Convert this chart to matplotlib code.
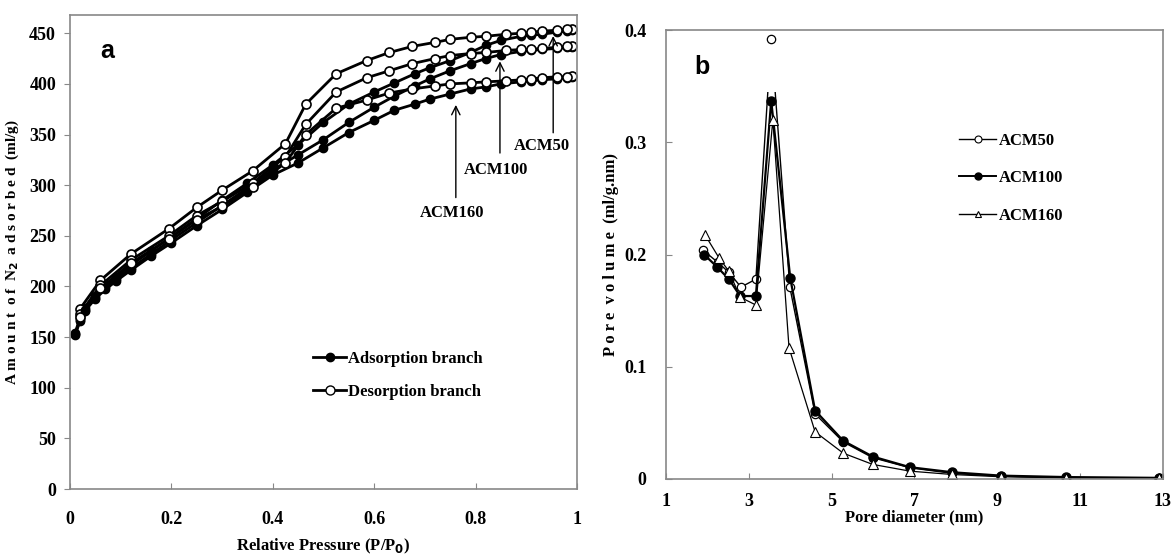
import matplotlib
matplotlib.use('Agg')
import matplotlib.pyplot as plt
from matplotlib.lines import Line2D
from matplotlib.patches import Rectangle

plt.rcParams['font.family'] = ['Liberation Serif', 'DejaVu Serif']
plt.rcParams['font.weight'] = 'bold'

# ---- panel a: N2 isotherms ----
ads_p = [0.01, 0.02, 0.03, 0.05, 0.07, 0.09, 0.12, 0.16, 0.2, 0.25, 0.3, 0.35, 0.4,
         0.45, 0.5, 0.55, 0.6, 0.64, 0.68, 0.71, 0.75, 0.79, 0.82, 0.85, 0.89,
         0.91, 0.93, 0.96, 0.98, 0.99]
ads_50 = [154, 169, 179, 191, 201, 209, 221, 235, 249, 267, 285, 302, 320,
          340, 362, 380, 392, 401, 410, 416, 423, 431, 438, 443, 447,
          448, 449, 451, 452, 453]
ads_100 = [153, 167, 177, 189, 199, 207, 218, 232, 246, 263, 280, 297, 315,
           330, 345, 362, 377, 388, 398, 405, 413, 420, 425, 429, 432,
           433, 434, 435, 436, 436]
ads_160 = [152, 166, 176, 188, 197, 205, 216, 230, 243, 260, 276, 293, 310,
           322, 337, 352, 364, 374, 380, 385, 390, 395, 397, 400, 402,
           403, 404, 405, 406, 407]

des_p = [0.99, 0.98, 0.96, 0.93, 0.91, 0.89, 0.86, 0.82, 0.79, 0.75, 0.72, 0.675,
         0.63, 0.585, 0.525, 0.465, 0.425, 0.36, 0.3, 0.25, 0.195, 0.12, 0.06, 0.02]
des_50 = [454, 454, 453, 452, 451, 450, 449, 447, 446, 444, 441, 437,
          431, 423, 410, 380, 341, 314, 295, 278, 257, 232, 206, 178]
des_100 = [437, 437, 436, 435, 434, 434, 433, 431, 430, 428, 425, 420,
           413, 406, 392, 360, 328, 302, 284, 270, 250, 226, 201, 173]
des_160 = [408, 407, 407, 406, 405, 404, 403, 402, 401, 400, 398, 395,
           391, 384, 376, 350, 322, 298, 279, 266, 247, 223, 198, 170]

labels_a = ['ACM50', 'ACM100', 'ACM160']
arrow_x = [0.953, 0.848, 0.761]
arrow_tip = [450, 425, 382]
arrow_tail = [349, 329, 285]
text_xy = [(0.931, 339), (0.840, 315), (0.753, 273)]

# ---- panel b: pore size distribution ----
d_50 = [1.89, 2.25, 2.52, 2.81, 3.17, 3.54, 3.99, 4.60, 5.28, 5.99, 6.89, 7.91, 9.08, 10.66, 12.9]
v_50 = [0.204, 0.193, 0.184, 0.171, 0.178, 0.392, 0.171, 0.058, 0.033, 0.019, 0.010, 0.005,
        0.0025, 0.0013, 0.0007]
d_100 = [1.92, 2.23, 2.52, 2.79, 3.17, 3.54, 4.0, 4.60, 5.28, 5.99, 6.89, 7.91, 9.08, 10.66, 12.9]
v_100 = [0.200, 0.189, 0.178, 0.163, 0.163, 0.337, 0.179, 0.061, 0.034, 0.020, 0.0105, 0.006,
         0.003, 0.0017, 0.001]
d_160 = [1.95, 2.28, 2.52, 2.79, 3.17, 3.58, 3.97, 4.60, 5.28, 5.99, 6.89, 7.91, 9.08, 10.66, 12.9]
v_160 = [0.217, 0.197, 0.185, 0.162, 0.155, 0.320, 0.117, 0.042, 0.023, 0.013, 0.007, 0.004,
         0.002, 0.001, 0.0005]

fig = plt.figure(figsize=(11.74, 5.54), dpi=100)
ax1 = fig.add_axes([0.0596, 0.1173, 0.4319, 0.8556])
ax2 = fig.add_axes([0.5673, 0.1354, 0.4233, 0.8104])

for ax in (ax1, ax2):
    for s in ax.spines.values():
        s.set_color('#888888')
        s.set_linewidth(1.2)
    ax.tick_params(colors='#888888', labelcolor='black', labelsize=13, length=4)

# panel a
for ya, yd in [(ads_50, des_50), (ads_100, des_100), (ads_160, des_160)]:
    ax1.plot(ads_p, ya, '-o', color='black', lw=2, ms=6, mfc='black', mec='black', mew=1)
    ax1.plot(des_p, yd, '-o', color='black', lw=2, ms=6.5, mfc='white', mec='black', mew=1.2)

for lab, x, tip, tail, (tx, ty) in zip(labels_a, arrow_x, arrow_tip, arrow_tail, text_xy):
    ax1.annotate('', xy=(x, tip), xytext=(x, tail),
                 arrowprops=dict(arrowstyle='->', color='black', lw=1, mutation_scale=15))
    ax1.text(tx, ty, lab, ha='center', va='center', fontsize=12, fontweight='bold')

ax1.set_xlim(0, 1)
ax1.set_ylim(0, 468)
ax1.set_xticks([0, 0.2, 0.4, 0.6, 0.8, 1])
ax1.set_xticklabels(['0', '0.2', '0.4', '0.6', '0.8', '1'])
ax1.set_yticks(range(0, 451, 50))
ax1.tick_params(axis='x', direction='in', pad=16)
ax1.tick_params(axis='y', direction='out', pad=6)
ax1.set_xlabel('Relative Pressure (P/P$_\\mathbf{0}$)', fontsize=12, fontweight='bold', labelpad=6)
ax1.set_ylabel('A m o u n t  o f  N$_\\mathbf{2}$  a d s o r b e d  (ml/g)', fontsize=11,
               fontweight='bold', labelpad=6)
ax1.text(0.073, 0.925, 'a', transform=ax1.transAxes, fontsize=18, fontweight='bold',
         family='Liberation Sans', ha='center', va='center')

h_ads = Line2D([], [], color='black', lw=2, marker='o', ms=6, mfc='black', mec='black')
h_des = Line2D([], [], color='black', lw=2, marker='o', ms=6.5, mfc='white', mec='black')
ax1.legend([h_ads, h_des], ['Adsorption branch', 'Desorption branch'], frameon=False,
           loc='center left', bbox_to_anchor=(0.45, 0.24), fontsize=12, handlelength=2.0,
           handletextpad=0.1, labelspacing=1.0)

# panel b
l50, = ax2.plot(d_50, v_50, '-', color='black', lw=1)
l50.set_clip_path(Rectangle((1, 0), 12, 0.345, transform=ax2.transData))
ax2.plot(d_50, v_50, 'o', color='black', ms=6, mfc='white', mec='black', mew=0.9, lw=0)
ax2.plot(d_100, v_100, '-o', color='black', lw=1.6, ms=6.5, mfc='black', mec='black')
ax2.plot(d_160, v_160, '-^', color='black', lw=0.9, ms=6.5, mfc='white', mec='black', mew=0.8)

ax2.set_xlim(1, 13)
ax2.set_ylim(0, 0.4)
ax2.set_xticks(range(1, 14, 2))
ax2.set_yticks([0, 0.1, 0.2, 0.3, 0.4])
ax2.set_yticklabels(['0', '0.1', '0.2', '0.3', '0.4'])
ax2.tick_params(axis='x', direction='in', pad=10)
ax2.tick_params(axis='y', direction='in', pad=14)
ax2.set_xlabel('Pore diameter (nm)', fontsize=12, fontweight='bold', labelpad=0)
ax2.set_ylabel('P o r e  v o l u m e  (ml/g.nm)', fontsize=12, fontweight='bold', labelpad=4)
ax2.text(0.072, 0.918, 'b', transform=ax2.transAxes, fontsize=18, fontweight='bold',
         family='Liberation Sans', ha='center', va='center')

h50 = Line2D([], [], color='black', lw=1, marker='o', ms=5, mfc='white', mec='black', mew=0.8)
h100 = Line2D([], [], color='black', lw=1.4, marker='o', ms=5, mfc='black', mec='black')
h160 = Line2D([], [], color='black', lw=1, marker='^', ms=5, mfc='white', mec='black', mew=0.8)
ax2.legend([h50, h100, h160], ['ACM50', 'ACM100', 'ACM160'], frameon=False,
           loc='center left', bbox_to_anchor=(0.56, 0.67), fontsize=12, handlelength=2.2,
           handletextpad=0.2, labelspacing=1.3)

fig.savefig('out.png', dpi=100)
